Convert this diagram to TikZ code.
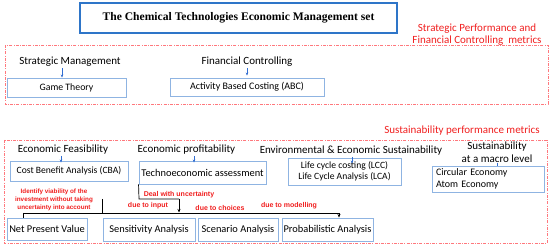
\documentclass[tikz,border=0pt]{standalone}
\usepackage{fontspec}
\setmainfont{Carlito}
\newfontfamily\titlefont{Liberation Serif}
\newfontfamily\labfont{Liberation Sans}
\usetikzlibrary{arrows.meta}
\definecolor{tblue}{RGB}{46,117,200}
\definecolor{lblue}{RGB}{143,180,226}
\definecolor{ablue}{RGB}{50,110,210}
\definecolor{dred}{RGB}{255,120,125}
\definecolor{tred}{RGB}{240,30,30}
\tikzset{
  bx/.style={draw=lblue, line width=0.9pt, inner sep=0pt, align=center, font=\fontsize{10}{11.5}\selectfont},
  head/.style={inner sep=0pt, align=center, font=\fontsize{11}{12.5}\selectfont},
  redlab/.style={inner sep=0pt, align=center, text=tred, font=\fontsize{11}{11.5}\selectfont},
  smallred/.style={inner sep=0pt, align=center, text=tred, font=\labfont\bfseries\fontsize{7}{7.8}\selectfont},
  region/.style={draw=dred, line width=0.8pt, dash pattern=on 3pt off 1.3pt on 0.8pt off 1.3pt},
  barrow/.style={draw=ablue, line width=0.7pt, -{Stealth[length=3pt,width=2.5pt]}},
  conn/.style={draw=black, line width=0.7pt},
  carrow/.style={conn, -{Stealth[length=3.5pt,width=3pt]}}
}
\begin{document}
\begin{tikzpicture}[x=1pt,y=-1pt]
\useasboundingbox (0,0) rectangle (550,246);
% title
\node[draw=tblue, line width=1.4pt, minimum width=317pt, minimum height=30pt, inner sep=0pt,
  font=\titlefont\bfseries\fontsize{11.6}{13}\selectfont] (title) at (238.5,18) {The Chemical Technologies Economic Management set};
% regions
\draw[region] (5,45) rectangle (548,104);
\draw[region] (4,140) rectangle (547,243);
\node[redlab] (spf) at (477,34.5) {Strategic Performance and\\Financial Controlling\ \ metrics};
\node[redlab] (spm) at (462,131) {Sustainability performance metrics};
% top section
\node[head] (sm) at (70,62) {Strategic Management};
\node[head] (fc) at (247,62) {Financial Controlling};
\node[bx, minimum width=119pt, minimum height=19pt, font=\fontsize{9.8}{11}\selectfont] (game) at (66.5,87.5) {Game Theory};
\node[bx, minimum width=154pt, minimum height=18pt] (abc) at (247,87) {Activity Based Costing (ABC)};
\coordinate (xa) at (62,0);
\coordinate (xb) at (247,0);
\draw[barrow] ([yshift=-1pt]sm.south -| xa) -- (game.north -| xa);
\draw[barrow] ([yshift=-1pt]fc.south -| xb) -- ([yshift=2pt]abc.north -| xb);
% bottom section headings and boxes
\node[head] (ef) at (63,150) {Economic Feasibility};
\node[head] (ep) at (186.5,150) {Economic profitability};
\node[head] (ees) at (351,151) {Environmental \& Economic Sustainability};
\node[head] (sml) at (497,152) {Sustainability\\at a macro level};
\node[bx, minimum width=118pt, minimum height=20pt, font=\fontsize{9.6}{11}\selectfont] (cba) at (69,171) {Cost Benefit Analysis (CBA)};
\node[bx, minimum width=127pt, minimum height=23pt, font=\fontsize{10.4}{11}\selectfont] (techno) at (202.5,172.5) {Technoeconomic assessment};
\node[bx, minimum width=113pt, minimum height=27pt, font=\fontsize{9.6}{11.2}\selectfont] (lcc) at (344.5,171.5) {Life cycle costing (LCC)\\Life Cycle Analysis (LCA)};
\node[bx, minimum width=112pt, minimum height=26pt, text width=104pt, align=left] (circ) at (488,179) {Circular Economy\\Atom Economy};
\coordinate (xc) at (61,0);
\coordinate (xd) at (194,0);
\coordinate (xe) at (352,0);
\coordinate (xf) at (497,0);
\draw[barrow] ([yshift=-1pt]ef.south -| xc) -- ([yshift=-2pt]cba.north -| xc);
\draw[barrow] ([yshift=-1pt]ep.south -| xd) -- ([yshift=-2pt]techno.north -| xd);
\draw[barrow] ([yshift=-1pt]ees.south -| xe) -- ([yshift=-6pt]lcc.north -| xe);
\draw[draw=ablue, line width=0.7pt] ([yshift=-1pt]sml.south -| xf) -- (circ.north -| xf);
% bottom row
\node[bx, minimum width=80pt, minimum height=22pt, font=\fontsize{10.4}{11}\selectfont] (npv) at (47,229) {Net Present Value};
\node[bx, minimum width=92pt, minimum height=23pt, font=\fontsize{10.4}{11}\selectfont] (sens) at (149,229.5) {Sensitivity Analysis};
\node[bx, minimum width=80pt, minimum height=23pt, font=\fontsize{10.4}{11}\selectfont] (scen) at (238,229.5) {Scenario Analysis};
\node[bx, minimum width=91pt, minimum height=23pt, font=\fontsize{10.4}{11}\selectfont] (prob) at (327.5,229.5) {Probabilistic Analysis};
% red small labels
\node[smallred, font=\labfont\bfseries\fontsize{6.3}{7.8}\selectfont] (idv) at (54,200) {Identify viability of the\\investment without taking\\uncertainty into account};
\node[smallred] (dwu) at (179,195) {Deal with uncertainty};
\node[smallred] (dti) at (148,206) {due to input};
\node[smallred] (dtc) at (220,208) {due to choices};
\node[smallred] (dtm) at (289,206) {due to modelling};
% connectors
\coordinate (c1) at (139,199);
\coordinate (c2) at (179,199);
\coordinate (c3) at (179,212.5);
\coordinate (h1) at (23,213);
\coordinate (h2) at (339,213);
\coordinate (v1) at (102,199);
\draw[conn] (techno.south west) -- (c1) -- (c2);
\draw[carrow] (c2) -- (c3);
\draw[conn] (h1) -- (h2);
\draw[conn] (h1) -- (npv.north -| h1);
\draw[carrow] (h2) -- (prob.north -| h2);
\draw[conn] (v1) -- (v1 |- h1);
\end{tikzpicture}
\end{document}
